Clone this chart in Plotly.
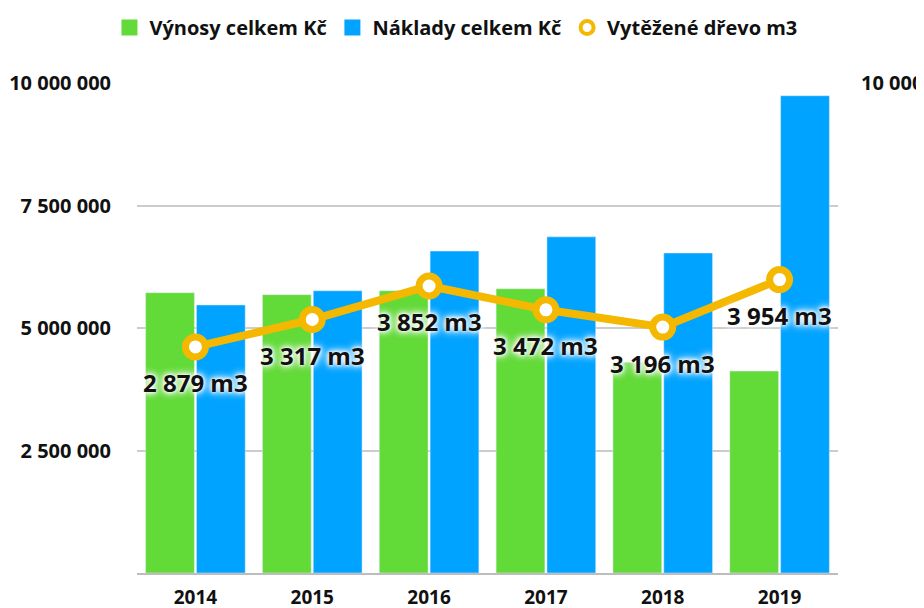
import plotly.graph_objects as go

# data
years = ["2014", "2015", "2016", "2017", "2018", "2019"]
vynosy = [5720000, 5680000, 5760000, 5800000, 4300000, 4120000]
naklady = [5470000, 5760000, 6570000, 6860000, 6530000, 9740000]
drevo = [2879, 3317, 3852, 3472, 3196, 3954]
drevo_labels = ["2 879 m3", "3 317 m3", "3 852 m3", "3 472 m3", "3 196 m3", "3 954 m3"]

left_ticks = [0, 2500000, 5000000, 7500000, 10000000]
left_ticktext = ["", "2 500 000", "5 000 000", "7 500 000", "10 000 000"]

GREEN = "#62DA37"
BLUE = "#00A3FF"
ORANGE = "#F5B800"
FONT = "Open Sans"
GLOW = "0 0 3px #fff, 0 0 5px #fff, 0 0 8px #fff, 0 0 10px #fff"

# right axis range so the wood line sits where it does in the picture
y2_range = [-729, 7092]

fig = go.Figure()
fig.add_trace(go.Bar(x=years, y=vynosy, name="Výnosy celkem Kč", showlegend=False,
                     marker_color=GREEN, hoverinfo="x+y"))
fig.add_trace(go.Bar(x=years, y=naklady, name="Náklady celkem Kč", showlegend=False,
                     marker_color=BLUE, hoverinfo="x+y"))
fig.add_trace(go.Scatter(
    x=years, y=drevo, name="Vytěžené dřevo m3", yaxis="y2",
    mode="lines+markers", showlegend=False,
    line=dict(color=ORANGE, width=8),
    marker=dict(size=20, color="white", line=dict(color=ORANGE, width=7)),
))

# legend-only entries: big squares for the bars, a ring for the line
for name, sym, col, size, lw in [
    ("Výnosy celkem Kč", "square", GREEN, 20, 0),
    ("Náklady celkem Kč", "square", BLUE, 20, 0),
    ("Vytěžené dřevo m3", "circle", "white", 13, 4),
]:
    fig.add_trace(go.Scatter(
        x=[None], y=[None], name=name, mode="markers",
        marker=dict(symbol=sym, size=size, color=col, line=dict(color=ORANGE, width=lw)),
    ))

# labels under each point (category index for x)
annotations = []
for i, (v, lab) in enumerate(zip(drevo, drevo_labels)):
    annotations.append(dict(
        x=i, y=v, xref="x", yref="y2", text=lab, showarrow=False,
        yshift=-36,
        font=dict(family=FONT, size=24, color="#111111", weight="bold", shadow=GLOW),
    ))

# the page body adds 8px on the left and top, margins make up for it
fig.update_layout(
    width=924, height=608,
    paper_bgcolor="white", plot_bgcolor="white",
    margin=dict(l=129, r=94, t=75, b=43),
    font=dict(family=FONT, color="#111111"),
    barmode="group", bargap=0.13, bargroupgap=0.04,
    showlegend=True,
    legend=dict(orientation="h", x=0.455, xanchor="center",
                y=1.0, yanchor="top", yref="container",
                font=dict(family=FONT, size=20, weight="bold"),
                itemwidth=30, traceorder="normal"),
    xaxis=dict(type="category", range=[-0.5, 5.5], showgrid=False, showline=True,
               linecolor="#BDBDBD", linewidth=2,
               tickfont=dict(family=FONT, size=19, weight="bold"),
               ticks="", ticklabelstandoff=6, automargin=False),
    yaxis=dict(range=[0, 10000000], tickvals=left_ticks, ticktext=left_ticktext,
               showgrid=True, gridcolor="#CCCCCC", gridwidth=2, zeroline=False,
               tickfont=dict(family=FONT, size=20, weight="bold"),
               ticklabelstandoff=25, automargin=False),
    yaxis2=dict(overlaying="y", side="right", range=y2_range,
                tickvals=[y2_range[1]], ticktext=["10 000 m3"],
                showgrid=False, zeroline=False, showline=False,
                tickfont=dict(family=FONT, size=20, weight="bold"),
                ticklabelstandoff=22, automargin=False),
    annotations=annotations,
)

fig.write_html("out.html")
